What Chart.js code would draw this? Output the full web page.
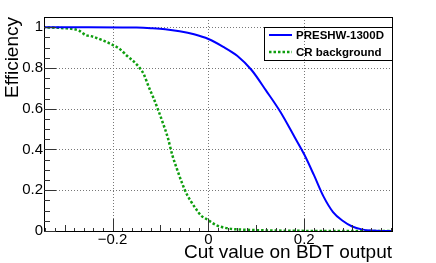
<!DOCTYPE html>
<html>
<head>
<meta charset="utf-8">
<script src="https://cdn.jsdelivr.net/npm/chart.js@4.4.1/dist/chart.umd.min.js"></script>
<style>
  html, body { margin: 0; padding: 0; background: #fff; }
  canvas { display: block; }
</style>
</head>
<body>
<canvas id="myChart" width="436" height="263"></canvas>
<script>
// signal efficiency vs cut value
const signalLabel = 'PRESHW-1300D';
const signalX = [-0.345, -0.25, -0.15, -0.12, -0.09, -0.06, -0.03, 0, 0.03, 0.06, 0.09, 0.12, 0.15, 0.18, 0.2, 0.22, 0.24, 0.26, 0.28, 0.3, 0.32, 0.34, 0.36, 0.385];
const signalY = [1.0, 1.0, 0.998, 0.995, 0.99, 0.98, 0.965, 0.942, 0.905, 0.86, 0.79, 0.69, 0.585, 0.46, 0.375, 0.275, 0.17, 0.093, 0.05, 0.022, 0.008, 0.002, 0.0, 0.0];

// background efficiency vs cut value
const bkgLabel = 'CR background';
const bkgX = [-0.345, -0.3, -0.28, -0.27, -0.262, -0.255, -0.245, -0.22, -0.2, -0.185, -0.17, -0.155, -0.145, -0.135, -0.125, -0.115, -0.105, -0.095, -0.085, -0.075, -0.065, -0.055, -0.045, -0.035, -0.025, -0.015, -0.005, 0.005, 0.015, 0.03, 0.05, 0.08, 0.12, 0.18, 0.25, 0.385];
const bkgY = [1.0, 0.995, 0.99, 0.983, 0.97, 0.96, 0.956, 0.935, 0.913, 0.893, 0.86, 0.83, 0.805, 0.77, 0.71, 0.655, 0.595, 0.53, 0.46, 0.37, 0.3, 0.235, 0.18, 0.14, 0.105, 0.075, 0.06, 0.045, 0.03, 0.018, 0.01, 0.006, 0.003, 0.001, 0.0, 0.0];

// axis ticks
const xTicks = [-0.2, 0, 0.2];
const yTicks = [0, 0.2, 0.4, 0.6, 0.8, 1];
const xTitle = 'Cut value on BDT output';
const yTitle = 'Efficiency';

const toPoints = (xs, ys) => xs.map((x, i) => ({ x: x, y: ys[i] }));
const FONT = '"Liberation Sans", Arial, Helvetica, sans-serif';

// ROOT-like frame: dotted grid, inward ticks, titles, legend
const rootStyle = {
    id: 'rootStyle',
    beforeDatasetsDraw(chart) {
        const { ctx, chartArea: a, scales: { x, y } } = chart;
        ctx.save();
        ctx.strokeStyle = '#777';
        ctx.lineWidth = 1;
        ctx.setLineDash([1, 2]);
        xTicks.forEach(v => {
            const px = Math.round(x.getPixelForValue(v)) + 0.5;
            ctx.beginPath(); ctx.moveTo(px, a.top); ctx.lineTo(px, a.bottom); ctx.stroke();
        });
        yTicks.forEach(v => {
            if (v === 0) return;
            const py = Math.round(y.getPixelForValue(v)) + 0.5;
            ctx.beginPath(); ctx.moveTo(a.left, py); ctx.lineTo(a.right, py); ctx.stroke();
        });
        ctx.restore();
    },
    afterDatasetsDraw(chart) {
        const { ctx, chartArea: a, scales: { x, y } } = chart;
        ctx.save();
        // frame
        ctx.strokeStyle = '#000';
        ctx.lineWidth = 1;
        ctx.strokeRect(Math.round(a.left) + 0.5, Math.round(a.top) + 0.5,
            Math.round(a.right - a.left), Math.round(a.bottom - a.top));
        // y ticks (0.05 minor)
        ctx.strokeStyle = '#333';
        for (let i = 0; i <= 20; i++) {
            const v = i * 0.05;
            const py = Math.round(y.getPixelForValue(v)) + 0.5;
            const len = i % 4 === 0 ? 12 : 6;
            ctx.beginPath(); ctx.moveTo(a.left, py); ctx.lineTo(a.left + len, py); ctx.stroke();
        }
        // x ticks (0.02 minor, 0.1 medium, 0.2 major)
        for (let i = -17; i <= 19; i++) {
            const v = i * 0.02;
            const px = Math.round(x.getPixelForValue(v)) + 0.5;
            if (px < a.left || px > a.right) continue;
            const len = i % 10 === 0 ? 12 : (i % 5 === 0 ? 6 : 3);
            ctx.beginPath(); ctx.moveTo(px, a.bottom); ctx.lineTo(px, a.bottom - len); ctx.stroke();
        }
        ctx.restore();
    },
    afterDraw(chart) {
        const { ctx, chartArea: a } = chart;
        ctx.save();
        ctx.fillStyle = '#000';
        ctx.font = '19px ' + FONT;
        // x title
        ctx.textAlign = 'right';
        ctx.textBaseline = 'alphabetic';
        ctx.fillText(xTitle, a.right, 258);
        // y title
        ctx.translate(18, a.top);
        ctx.rotate(-Math.PI / 2);
        ctx.textAlign = 'right';
        ctx.fillText(yTitle, 0, 0);
        ctx.restore();

        // legend box
        ctx.save();
        const bx = 264, by = 27.5, bw = 128, bh = 33;
        ctx.strokeStyle = '#000';
        ctx.lineWidth = 1;
        ctx.strokeRect(bx + 0.5, by, bw, bh);
        const ds = chart.data.datasets;
        const rows = [35, 52];
        ds.forEach((d, i) => {
            ctx.strokeStyle = d.borderColor;
            ctx.lineWidth = d.borderWidth;
            ctx.setLineDash(d.borderDash || []);
            ctx.beginPath(); ctx.moveTo(269, rows[i]); ctx.lineTo(292, rows[i]); ctx.stroke();
            ctx.setLineDash([]);
            ctx.fillStyle = '#000';
            ctx.font = 'bold 11.5px ' + FONT;
            ctx.textAlign = 'left';
            ctx.textBaseline = 'middle';
            ctx.fillText(d.label, 296, rows[i] + 0.5);
        });
        ctx.restore();
    }
};

function initChart() {
    const ctx = document.getElementById('myChart').getContext('2d');
    return new Chart(ctx, {
        type: 'line',
        data: {
            datasets: [{
                label: signalLabel,
                data: toPoints(signalX, signalY),
                borderColor: '#0000ff',
                borderWidth: 2,
                pointRadius: 0,
                cubicInterpolationMode: 'monotone',
                fill: false,
            }, {
                label: bkgLabel,
                data: toPoints(bkgX, bkgY),
                borderColor: '#0e9e0e',
                borderWidth: 2.5,
                borderDash: [2.5, 2],
                pointRadius: 0,
                cubicInterpolationMode: 'monotone',
                fill: false,
            }],
        },
        options: {
            responsive: false,
            animation: false,
            layout: { padding: { top: 17, right: 44, left: 0, bottom: 0 } },
            plugins: { legend: { display: false }, tooltip: { enabled: false } },
            scales: {
                x: {
                    type: 'linear',
                    position: 'bottom',
                    min: -0.343,
                    max: 0.383,
                    grid: { display: false, drawTicks: false },
                    border: { display: false },
                    afterBuildTicks: s => { s.ticks = xTicks.map(v => ({ value: v })); },
                    afterFit: s => { s.height = 32; },
                    ticks: {
                        padding: 0,
                        color: '#000',
                        font: { family: FONT, size: 15 },
                        maxRotation: 0,
                        callback: v => v < 0 ? '\u2212' + Math.abs(v) : String(v)
                    }
                },
                y: {
                    min: 0,
                    max: 1.05,
                    grid: { display: false, drawTicks: false },
                    border: { display: false },
                    afterBuildTicks: s => { s.ticks = yTicks.map(v => ({ value: v })); },
                    afterFit: s => { s.width = 44; },
                    ticks: {
                        padding: 1,
                        color: '#000',
                        font: { family: FONT, size: 15 },
                        callback: v => String(Math.round(v * 10) / 10)
                    }
                }
            }
        },
        plugins: [rootStyle]
    });
}

const chart = initChart();
</script>
</body>
</html>
